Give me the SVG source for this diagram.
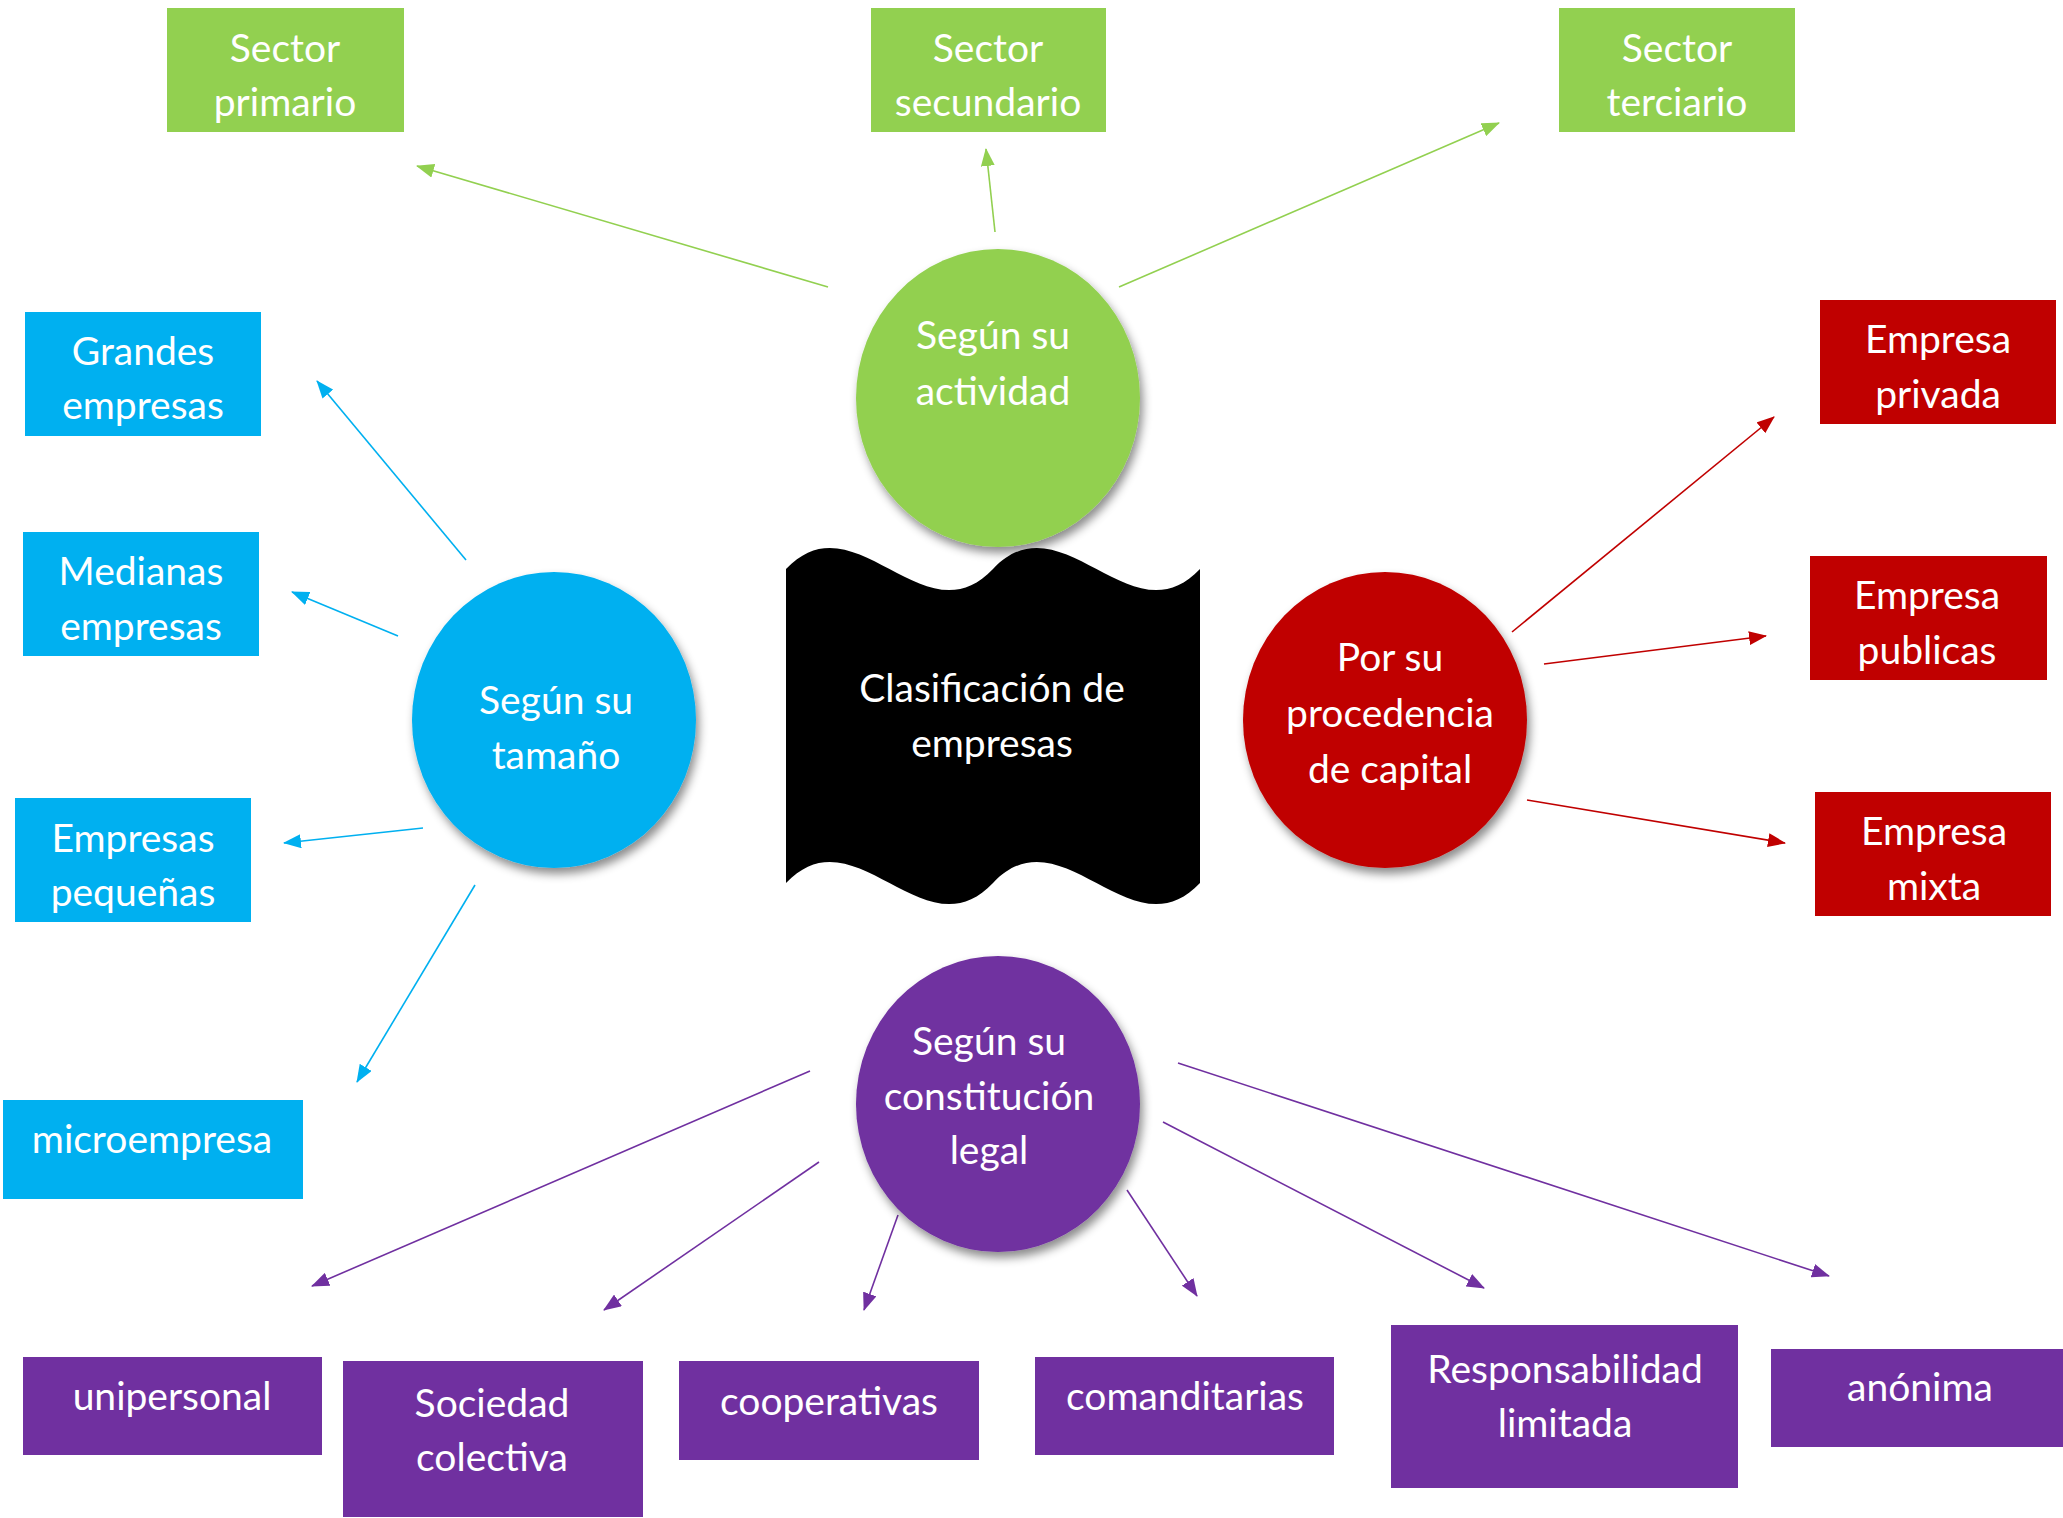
<svg xmlns="http://www.w3.org/2000/svg" width="2063" height="1518" viewBox="0 0 2063 1518">
<style>
  .t{font-family:Lato,"Liberation Sans",sans-serif;font-size:39px;fill:#ffffff;text-anchor:middle}
  .g{fill:#92D050}
  .b{fill:#00B0F0}
  .r{fill:#C00000}
  .p{fill:#7030A0}
  .cg{stroke:#92D050;stroke-width:1.6;fill:none;marker-end:url(#ag)}
  .cb{stroke:#00B0F0;stroke-width:1.6;fill:none;marker-end:url(#ab)}
  .cr{stroke:#C00000;stroke-width:1.6;fill:none;marker-end:url(#ar)}
  .cp{stroke:#7030A0;stroke-width:1.6;fill:none;marker-end:url(#ap)}
</style>
<defs>
  <filter id="sh" x="-20%" y="-20%" width="140%" height="140%">
    <feDropShadow dx="3" dy="6" stdDeviation="5" flood-color="#000" flood-opacity="0.45"/>
  </filter>
  <marker id="ag" markerUnits="userSpaceOnUse" markerWidth="18" markerHeight="14" refX="17" refY="7" orient="auto"><path d="M0,0 L18,7 L0,14 Z" fill="#92D050"/></marker>
  <marker id="ab" markerUnits="userSpaceOnUse" markerWidth="18" markerHeight="14" refX="17" refY="7" orient="auto"><path d="M0,0 L18,7 L0,14 Z" fill="#00B0F0"/></marker>
  <marker id="ar" markerUnits="userSpaceOnUse" markerWidth="18" markerHeight="14" refX="17" refY="7" orient="auto"><path d="M0,0 L18,7 L0,14 Z" fill="#C00000"/></marker>
  <marker id="ap" markerUnits="userSpaceOnUse" markerWidth="18" markerHeight="14" refX="17" refY="7" orient="auto"><path d="M0,0 L18,7 L0,14 Z" fill="#7030A0"/></marker>
</defs>
<rect width="2063" height="1518" fill="#ffffff"/>

<g id="connectors">
  <line class="cg" x1="828" y1="287" x2="417" y2="166"/>
  <line class="cg" x1="995" y1="232" x2="986" y2="149"/>
  <line class="cg" x1="1119" y1="287" x2="1499" y2="123"/>
  <line class="cb" x1="466" y1="560" x2="317" y2="381"/>
  <line class="cb" x1="398" y1="636" x2="292" y2="592"/>
  <line class="cb" x1="423" y1="828" x2="284" y2="843"/>
  <line class="cb" x1="475" y1="885" x2="357" y2="1082"/>
  <line class="cr" x1="1512" y1="632" x2="1774" y2="417"/>
  <line class="cr" x1="1544" y1="664" x2="1766" y2="636"/>
  <line class="cr" x1="1527" y1="800" x2="1785" y2="843"/>
  <line class="cp" x1="810" y1="1071" x2="312" y2="1286"/>
  <line class="cp" x1="819" y1="1162" x2="604" y2="1310"/>
  <line class="cp" x1="898" y1="1215" x2="864" y2="1310"/>
  <line class="cp" x1="1127" y1="1190" x2="1197" y2="1296"/>
  <line class="cp" x1="1163" y1="1122" x2="1484" y2="1288"/>
  <line class="cp" x1="1178" y1="1063" x2="1829" y2="1276"/>
</g>

<g id="center">
  <path d="M786,569 C855,496 924,642 993,569 C1062,496 1131,642 1200,569 L1200,883 C1131,956 1062,810 993,883 C924,956 855,810 786,883 Z" fill="#000000"/>
  <text class="t" x="992" y="702">Clasificación de</text>
  <text class="t" x="992" y="757">empresas</text>
</g>

<g id="actividad">
  <ellipse class="g" cx="998" cy="398" rx="142" ry="149" filter="url(#sh)"/>
  <text class="t" x="993" y="349">Según su</text>
  <text class="t" x="993" y="405">actividad</text>
</g>
<g id="tamano">
  <ellipse class="b" cx="554" cy="720" rx="142" ry="148" filter="url(#sh)"/>
  <text class="t" x="556" y="714">Según su</text>
  <text class="t" x="556" y="769">tamaño</text>
</g>
<g id="capital">
  <ellipse class="r" cx="1385" cy="720" rx="142" ry="148" filter="url(#sh)"/>
  <text class="t" x="1390" y="671">Por su</text>
  <text class="t" x="1390" y="727">procedencia</text>
  <text class="t" x="1390" y="783">de capital</text>
</g>
<g id="legal">
  <ellipse class="p" cx="998" cy="1104" rx="142" ry="148" filter="url(#sh)"/>
  <text class="t" x="989" y="1055">Según su</text>
  <text class="t" x="989" y="1110">constitución</text>
  <text class="t" x="989" y="1164">legal</text>
</g>

<g id="sector-primario">
  <rect class="g" x="167" y="8" width="237" height="124"/>
  <text class="t" x="285" y="62">Sector</text>
  <text class="t" x="285" y="116">primario</text>
</g>
<g id="sector-secundario">
  <rect class="g" x="871" y="8" width="235" height="124"/>
  <text class="t" x="988" y="62">Sector</text>
  <text class="t" x="988" y="116">secundario</text>
</g>
<g id="sector-terciario">
  <rect class="g" x="1559" y="8" width="236" height="124"/>
  <text class="t" x="1677" y="62">Sector</text>
  <text class="t" x="1677" y="116">terciario</text>
</g>

<g id="grandes">
  <rect class="b" x="25" y="312" width="236" height="124"/>
  <text class="t" x="143" y="365">Grandes</text>
  <text class="t" x="143" y="419">empresas</text>
</g>
<g id="medianas">
  <rect class="b" x="23" y="532" width="236" height="124"/>
  <text class="t" x="141" y="585">Medianas</text>
  <text class="t" x="141" y="640">empresas</text>
</g>
<g id="pequenas">
  <rect class="b" x="15" y="798" width="236" height="124"/>
  <text class="t" x="133" y="852">Empresas</text>
  <text class="t" x="133" y="906">pequeñas</text>
</g>
<g id="microempresa">
  <rect class="b" x="3" y="1100" width="300" height="99"/>
  <text class="t" x="152" y="1153">microempresa</text>
</g>

<g id="privada">
  <rect class="r" x="1820" y="300" width="236" height="124"/>
  <text class="t" x="1938" y="353">Empresa</text>
  <text class="t" x="1938" y="408">privada</text>
</g>
<g id="publicas">
  <rect class="r" x="1810" y="556" width="237" height="124"/>
  <text class="t" x="1927" y="609">Empresa</text>
  <text class="t" x="1927" y="664">publicas</text>
</g>
<g id="mixta">
  <rect class="r" x="1815" y="792" width="236" height="124"/>
  <text class="t" x="1934" y="845">Empresa</text>
  <text class="t" x="1934" y="900">mixta</text>
</g>

<g id="unipersonal">
  <rect class="p" x="23" y="1357" width="299" height="98"/>
  <text class="t" x="172" y="1410">unipersonal</text>
</g>
<g id="colectiva">
  <rect class="p" x="343" y="1361" width="300" height="156"/>
  <text class="t" x="492" y="1417">Sociedad</text>
  <text class="t" x="492" y="1471">colectiva</text>
</g>
<g id="cooperativas">
  <rect class="p" x="679" y="1361" width="300" height="99"/>
  <text class="t" x="829" y="1415">cooperativas</text>
</g>
<g id="comanditarias">
  <rect class="p" x="1035" y="1357" width="299" height="98"/>
  <text class="t" x="1185" y="1410">comanditarias</text>
</g>
<g id="limitada">
  <rect class="p" x="1391" y="1325" width="347" height="163"/>
  <text class="t" x="1565" y="1383">Responsabilidad</text>
  <text class="t" x="1565" y="1437">limitada</text>
</g>
<g id="anonima">
  <rect class="p" x="1771" y="1349" width="292" height="98"/>
  <text class="t" x="1920" y="1401">anónima</text>
</g>
</svg>
